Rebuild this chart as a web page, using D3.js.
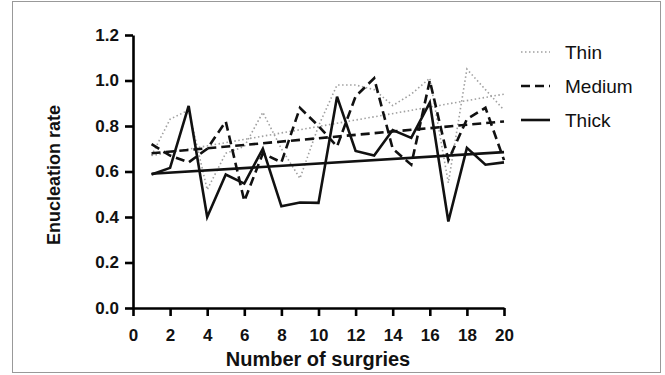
<!DOCTYPE html>
<html><head><meta charset="utf-8">
<script src="https://cdn.jsdelivr.net/npm/d3@7/dist/d3.min.js"></script>
<style>body{margin:0;background:#fff}svg{display:block}</style>
</head><body>
<svg id="c" width="665" height="375"></svg>
<script>
const surgeries = d3.range(1, 21);
const thin   = [0.67,0.83,0.87,0.52,0.68,0.71,0.86,0.70,0.57,0.80,0.98,0.98,0.96,0.89,0.94,1.01,0.55,1.05,0.96,0.87];
const medium = [0.72,0.67,0.64,0.70,0.82,0.47,0.68,0.64,0.88,0.80,0.71,0.93,1.01,0.70,0.63,1.00,0.65,0.83,0.88,0.65];
const thick  = [0.587,0.616,0.888,0.40,0.587,0.547,0.70,0.447,0.464,0.462,0.929,0.69,0.67,0.782,0.748,0.903,0.38,0.704,0.63,0.64];
const thinTrend = [0.67, 0.94];
const mediumTrend = [0.68, 0.82];
const thickTrend = [0.59, 0.685];
const xTicks = [0,2,4,6,8,10,12,14,16,18,20];
const yTicks = [0,0.2,0.4,0.6,0.8,1.0,1.2];
const seriesNames = ["Thin","Medium","Thick"];

const svg = d3.select("#c");
const font = "'Liberation Sans', Arial, sans-serif";
svg.append("rect").attr("x",12.5).attr("y",1.5).attr("width",648).attr("height",371)
  .attr("fill","none").attr("stroke","#999").attr("stroke-width",1);

const x = d3.scaleLinear().domain([0,20]).range([133,504]);
const y = d3.scaleLinear().domain([0,1.2]).range([308,35]);

const styles = {
  Thin:   {stroke:"#a0a0a0", width:1.6, dash:"1.5,2.5"},
  Medium: {stroke:"#111", width:2.6, dash:"9,5"},
  Thick:  {stroke:"#111", width:2.6, dash:null}
};
const data = {Thin:thin, Medium:medium, Thick:thick};
const trends = {Thin:thinTrend, Medium:mediumTrend, Thick:thickTrend};
const line = d3.line().x(d=>x(d[0])).y(d=>y(d[1]));

const g = svg.append("g");
for (const name of seriesNames) {
  const s = styles[name];
  const pts = surgeries.map((k,i)=>[k, data[name][i]]);
  const tr = [[surgeries[0], trends[name][0]], [surgeries[surgeries.length-1], trends[name][1]]];
  for (const p of [pts, tr]) {
    g.append("path").attr("d", line(p)).attr("fill","none")
      .attr("stroke", s.stroke).attr("stroke-width", s.width)
      .attr("stroke-dasharray", s.dash).attr("stroke-linejoin","miter");
  }
}

// axes
const xAxis = svg.append("g").attr("transform","translate(0,308)")
  .call(d3.axisBottom(x).tickValues(xTicks).tickFormat(d3.format("d")).tickSize(8).tickSizeOuter(0));
const yAxis = svg.append("g").attr("transform","translate(133,0)")
  .call(d3.axisLeft(y).tickValues(yTicks).tickFormat(d3.format(".1f")).tickSize(8).tickSizeOuter(0));
for (const ax of [xAxis, yAxis]) {
  ax.select(".domain").attr("stroke","#000").attr("stroke-width",2.6);
  ax.selectAll(".tick line").attr("stroke","#000").attr("stroke-width",2.6);
  ax.selectAll(".tick text").attr("fill","#111").style("font-family",font)
    .style("font-size","17px").style("font-weight","bold");
}
xAxis.selectAll(".tick text").attr("y",33).attr("dy",0);
yAxis.selectAll(".tick text").attr("x",-14);

svg.append("text").attr("x",318).attr("y",366).attr("text-anchor","middle")
  .style("font-family",font).style("font-size","20px").style("font-weight","bold")
  .attr("fill","#111").text("Number of surgries");
svg.append("text").attr("transform","translate(60,175) rotate(-90)").attr("text-anchor","middle")
  .style("font-family",font).style("font-size","18px").style("font-weight","bold")
  .attr("fill","#111").text("Enucleation rate");

// legend
const leg = svg.append("g");
seriesNames.forEach((name,i)=>{
  const s = styles[name];
  const yy = 52 + i*34;
  leg.append("line").attr("x1",521).attr("x2",550).attr("y1",yy).attr("y2",yy)
    .attr("stroke",s.stroke).attr("stroke-width",s.width).attr("stroke-dasharray",s.dash);
  leg.append("text").attr("x",565).attr("y",yy).attr("dy","0.35em")
    .style("font-family",font).style("font-size","19px").attr("fill","#111").text(name);
});
</script>
</body></html>
